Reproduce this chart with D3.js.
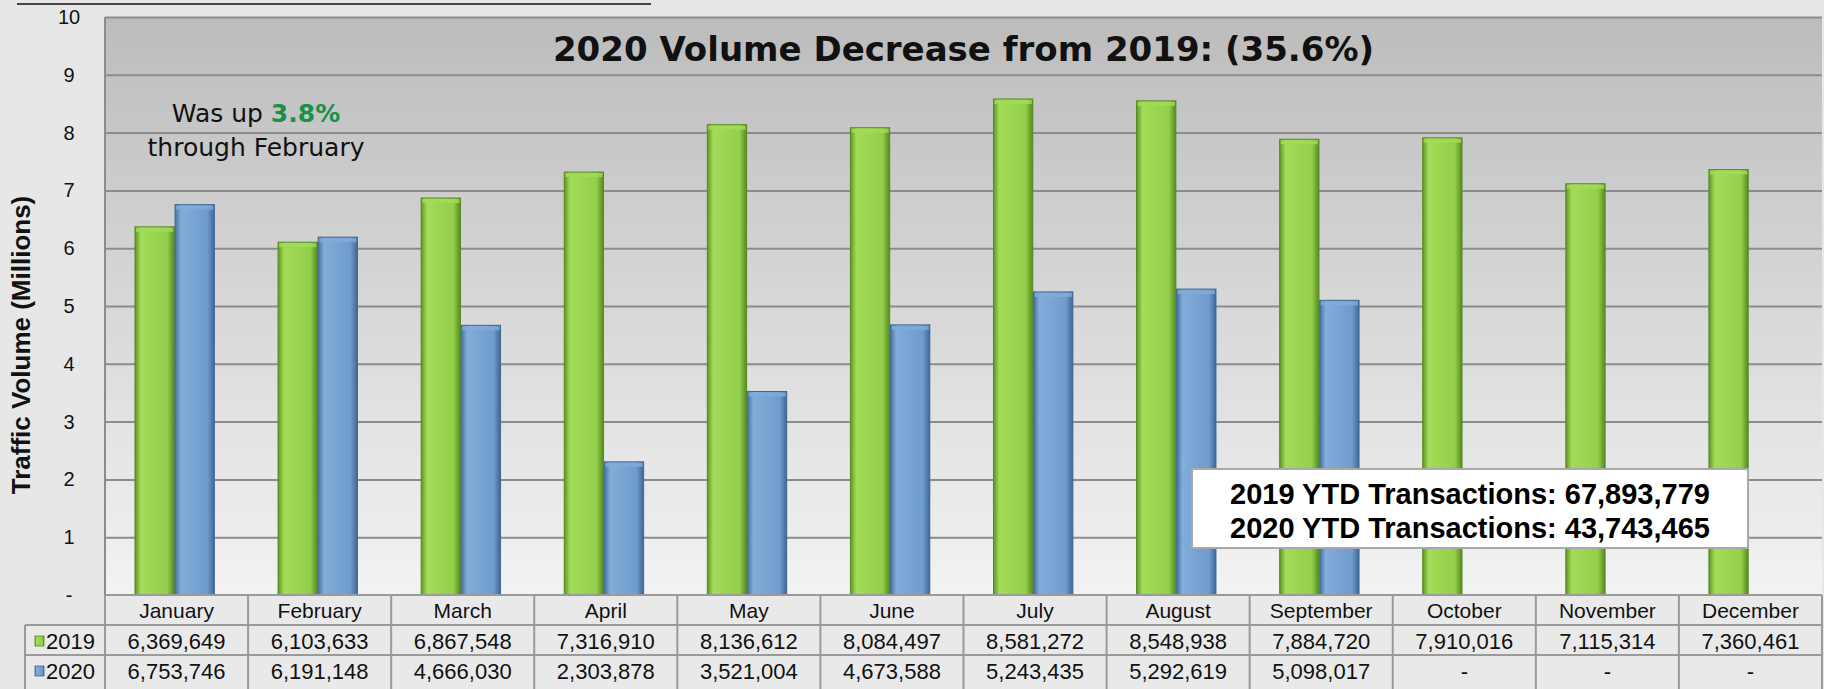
<!DOCTYPE html>
<html>
<head>
<meta charset="utf-8">
<script src="https://cdn.jsdelivr.net/npm/d3@7"></script>
<style>
  body { margin: 0; background: #e7e7e7; }
  svg { display: block; }
</style>
</head>
<body>
<svg id="chart"></svg>
<script>
// Data arrays
const months = ["January", "February", "March", "April", "May", "June",
  "July", "August", "September", "October", "November", "December"];
const years = ["2019", "2020"];
const volume2019 = [6369649, 6103633, 6867548, 7316910, 8136612, 8084497,
  8581272, 8548938, 7884720, 7910016, 7115314, 7360461];
const volume2020 = [6753746, 6191148, 4666030, 2303878, 3521004, 4673588,
  5243435, 5292619, 5098017, null, null, null];
const yTicks = [0, 1, 2, 3, 4, 5, 6, 7, 8, 9, 10];
const titleText = "2020 Volume Decrease from 2019: (35.6%)";
const ytdLines = ["2019 YTD Transactions: 67,893,779", "2020 YTD Transactions: 43,743,465"];

const series = [volume2019, volume2020];

// Layout
const W = 1824, H = 689;
const margin = { top: 17, right: 2, bottom: 94, left: 105 };
const width = W - margin.left - margin.right;
const height = H - margin.top - margin.bottom;
const rowH = 30;

const svg = d3.select("#chart").attr("width", W).attr("height", H);

const defs = svg.append("defs");
const bg = defs.append("linearGradient").attr("id", "plotBg")
    .attr("x1", 0).attr("y1", 0).attr("x2", 0).attr("y2", 1);
bg.append("stop").attr("offset", "0%").attr("stop-color", "#bcbcbc");
bg.append("stop").attr("offset", "100%").attr("stop-color", "#f3f3f3");

const barColors = {
  "2019": ["#5f9424", "#a2dc58", "#93cf4a", "#558a1f"],
  "2020": ["#45729f", "#82acd9", "#6f9ccd", "#3f6794"]
};
years.forEach(yr => {
  const g = defs.append("linearGradient").attr("id", "bar" + yr)
      .attr("x1", 0).attr("y1", 0).attr("x2", 1).attr("y2", 0);
  const c = barColors[yr];
  g.append("stop").attr("offset", "0%").attr("stop-color", c[0]);
  g.append("stop").attr("offset", "15%").attr("stop-color", c[1]);
  g.append("stop").attr("offset", "82%").attr("stop-color", c[2]);
  g.append("stop").attr("offset", "100%").attr("stop-color", c[3]);
});

// top decorative line
svg.append("line")
    .attr("x1", 17).attr("x2", 651).attr("y1", 4).attr("y2", 4)
    .attr("stroke", "#444").attr("stroke-width", 2);

const g = svg.append("g").attr("transform", `translate(${margin.left},${margin.top})`);

// Scales
const x = d3.scaleBand().domain(months).range([0, width])
    .paddingInner(0.434).paddingOuter(0.217).align(0.47);
const cat = d3.scaleBand().domain(months).range([0, width]);
const xs = d3.scaleBand().domain(years).range([0, x.bandwidth()]).padding(0.02);
const y = d3.scaleLinear().domain([0, 10]).range([height, 0]);

g.append("rect").attr("width", width).attr("height", height).attr("fill", "url(#plotBg)");

// Gridlines
g.append("g")
    .call(d3.axisLeft(y).tickValues(yTicks).tickSize(-width).tickFormat(""))
    .call(a => a.select(".domain").remove())
    .selectAll("line").attr("stroke", "#8c8c8c").attr("stroke-width", 2);

// left plot border
g.append("line").attr("x1", 0).attr("x2", 0).attr("y1", 0).attr("y2", height)
    .attr("stroke", "#8c8c8c").attr("stroke-width", 2);

// Y axis labels
g.append("g")
    .attr("transform", "translate(-33,0)")
    .call(d3.axisLeft(y).tickValues(yTicks).tickSize(0).tickFormat(d => d === 0 ? "-" : d))
    .call(a => a.select(".domain").remove())
    .selectAll("text")
    .attr("text-anchor", "middle")
    .attr("dy", "0.32em")
    .style("font-family", "Liberation Sans, Arial, sans-serif")
    .style("font-size", "20px")
    .style("fill", "#111");

// Bars
years.forEach((yr, si) => {
  const rows = months.map((m, i) => ({ m, v: series[si][i] })).filter(d => d.v != null);
  g.selectAll(".bar" + yr)
      .data(rows)
    .enter().append("rect")
      .attr("x", d => x(d.m) + xs(yr))
      .attr("y", d => y(d.v / 1e6))
      .attr("width", xs.bandwidth())
      .attr("height", d => height - y(d.v / 1e6))
      .attr("fill", `url(#bar${yr})`)
      .attr("stroke", barColors[yr][3])
      .attr("stroke-width", 1);
  // light top cap
  g.selectAll(".cap" + yr)
      .data(rows)
    .enter().append("rect")
      .attr("x", d => x(d.m) + xs(yr) + 1)
      .attr("y", d => y(d.v / 1e6) + 1)
      .attr("width", xs.bandwidth() - 2)
      .attr("height", 4)
      .attr("fill", barColors[yr][1])
      .attr("opacity", 0.8);
});

// Title
g.append("text")
    .attr("x", width / 2)
    .attr("y", 44)
    .attr("text-anchor", "middle")
    .style("font-family", "DejaVu Sans, Verdana, sans-serif")
    .style("font-weight", "bold")
    .style("font-size", "34px")
    .style("fill", "#111")
    .text(titleText);

// Annotation
const ann = g.append("text")
    .attr("text-anchor", "middle")
    .style("font-family", "DejaVu Sans, Verdana, sans-serif")
    .style("font-size", "25px")
    .style("fill", "#111");
const l1 = ann.append("tspan").attr("x", 151).attr("y", 105);
l1.append("tspan").text("Was up ");
l1.append("tspan").style("font-weight", "bold").style("fill", "#1a9148").text("3.8%");
ann.append("tspan").attr("x", 151).attr("y", 139).text("through February");

// YTD box
const box = g.append("g").attr("transform", "translate(1087,452)");
box.append("rect").attr("width", 556).attr("height", 79)
    .attr("fill", "#fff").attr("stroke", "#a9a9a9").attr("stroke-width", 2);
box.selectAll("text").data(ytdLines).enter().append("text")
    .attr("x", 278).attr("y", (d, i) => 35 + i * 34)
    .attr("text-anchor", "middle")
    .style("font-family", "Liberation Sans, Arial, sans-serif")
    .style("font-weight", "bold")
    .style("font-size", "29px")
    .style("fill", "#000")
    .text(d => d);

// Data table
const tbl = g.append("g").attr("transform", `translate(0,${height})`);
const gridC = "#9a9a9a";
const fmt = d3.format(",");
const tfont = "Liberation Sans, Arial, sans-serif";
const legX = -margin.left + 25;

tbl.append("rect").attr("x", 0).attr("y", 0).attr("width", width).attr("height", rowH)
    .attr("fill", "#e9e9e9");
tbl.append("rect").attr("x", legX).attr("y", rowH).attr("width", width - legX)
    .attr("height", rowH * 2 + 5).attr("fill", "#e9e9e9");

// horizontal lines
[[0, 0], [rowH, legX], [rowH * 2, legX]].forEach(([yy, x0]) => {
  tbl.append("line").attr("x1", x0).attr("x2", width).attr("y1", yy).attr("y2", yy)
      .attr("stroke", gridC).attr("stroke-width", 2);
});
// vertical lines
months.forEach(m => {
  tbl.append("line").attr("x1", cat(m)).attr("x2", cat(m)).attr("y1", 0).attr("y2", rowH * 3 + 5)
      .attr("stroke", gridC).attr("stroke-width", 2);
});
tbl.append("line").attr("x1", width).attr("x2", width).attr("y1", 0).attr("y2", rowH * 3 + 5)
    .attr("stroke", gridC).attr("stroke-width", 2);
tbl.append("line").attr("x1", legX).attr("x2", legX)
    .attr("y1", rowH).attr("y2", rowH * 3 + 5)
    .attr("stroke", gridC).attr("stroke-width", 2);

// header labels
tbl.selectAll(".hdr").data(months).enter().append("text")
    .attr("x", d => cat(d) + cat.bandwidth() / 2)
    .attr("y", rowH / 2 + 1)
    .attr("dy", "0.35em")
    .attr("text-anchor", "middle")
    .style("font-family", tfont).style("font-size", "21px").style("fill", "#111")
    .text(d => d);

// data rows
years.forEach((yr, si) => {
  const ry = rowH * (si + 1) + rowH / 2 + 1;
  tbl.selectAll(".v" + yr).data(series[si]).enter().append("text")
      .attr("x", (d, i) => cat(months[i]) + cat.bandwidth() / 2)
      .attr("y", ry)
      .attr("dy", "0.35em")
      .attr("text-anchor", "middle")
      .style("font-family", tfont).style("font-size", "22px").style("fill", "#111")
      .text(d => d == null ? "-" : fmt(d));
  // legend key
  tbl.append("rect")
      .attr("x", legX + 10).attr("y", ry - 5)
      .attr("width", 9).attr("height", 10)
      .attr("fill", `url(#bar${yr})`).attr("stroke", barColors[yr][3]).attr("stroke-width", 0.8);
  tbl.append("text")
      .attr("x", legX + 21).attr("y", ry).attr("dy", "0.35em")
      .style("font-family", tfont).style("font-size", "22px").style("fill", "#111")
      .text(yr);
});

// Y axis title
svg.append("text")
    .attr("transform", "translate(30,345) rotate(-90)")
    .attr("text-anchor", "middle")
    .style("font-family", "Liberation Sans, Arial, sans-serif")
    .style("font-weight", "bold")
    .style("font-size", "26px")
    .style("fill", "#111")
    .text("Traffic Volume (Millions)");
</script>
</body>
</html>
